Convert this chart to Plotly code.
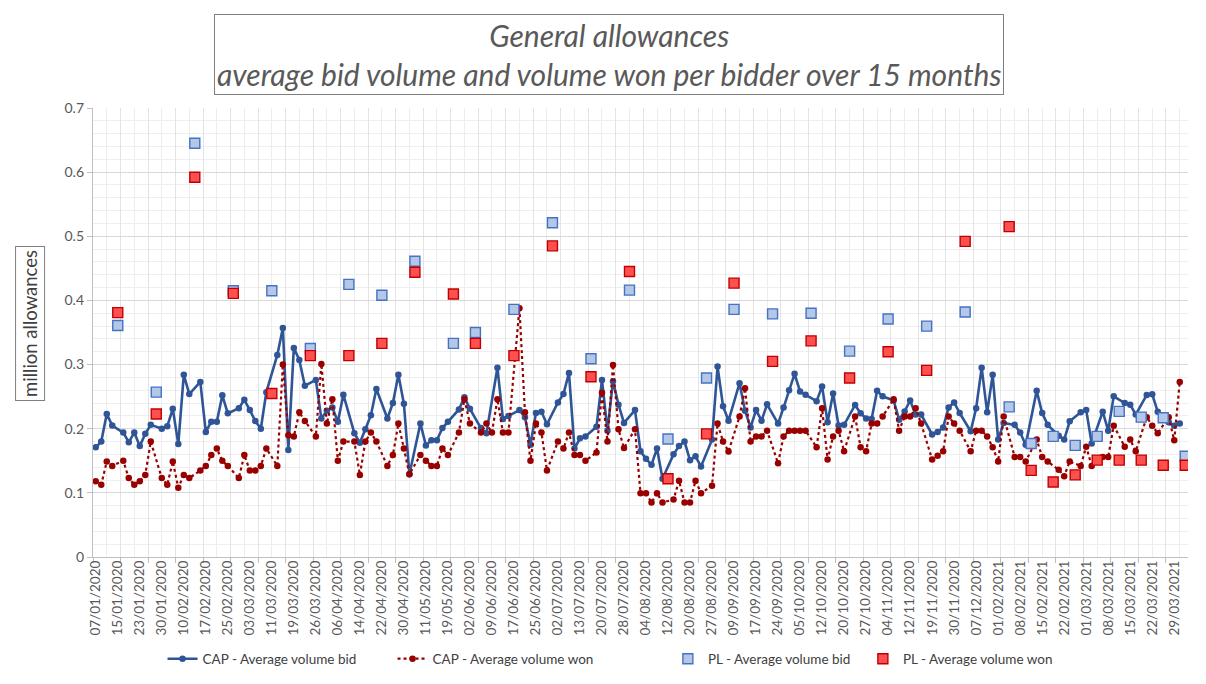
import plotly.graph_objects as go

# ---------------- data ----------------
N_CATEGORIES = 199  # auction dates on the category axis (CAP + PL dates)

tick_labels = [
    "07/01/2020", "15/01/2020", "23/01/2020", "30/01/2020", "10/02/2020", "17/02/2020",
    "25/02/2020", "03/03/2020", "11/03/2020", "19/03/2020", "26/03/2020", "06/04/2020",
    "14/04/2020", "22/04/2020", "30/04/2020", "11/05/2020", "19/05/2020", "02/06/2020",
    "09/06/2020", "17/06/2020", "25/06/2020", "02/07/2020", "13/07/2020", "20/07/2020",
    "28/07/2020", "04/08/2020", "12/08/2020", "20/08/2020", "27/08/2020", "09/09/2020",
    "17/09/2020", "24/09/2020", "05/10/2020", "12/10/2020", "20/10/2020", "27/10/2020",
    "04/11/2020", "12/11/2020", "19/11/2020", "30/11/2020", "07/12/2020", "01/02/2021",
    "08/02/2021", "15/02/2021", "22/02/2021", "01/03/2021", "08/03/2021", "15/03/2021",
    "22/03/2021", "29/03/2021",
]
LABEL_EVERY = 4

# CAP - average volume bid (None = PL-only date)
cap_bid = [
    0.171, 0.180, 0.223, 0.205, None, 0.194, 0.179, 0.194, 0.173, 0.192,
    0.206, None, 0.200, 0.204, 0.231, 0.176, 0.284, 0.254, None, 0.273,
    0.195, 0.211, 0.211, 0.252, 0.224, None, 0.232, 0.245, 0.229, 0.212,
    0.200, 0.257, None, 0.315, 0.357, 0.167, 0.326, 0.307, 0.267, None,
    0.276, 0.216, 0.228, 0.233, 0.211, 0.253, None, 0.193, 0.178, 0.199,
    0.221, 0.262, None, 0.216, 0.240, 0.284, 0.239, 0.129, None, 0.208,
    0.174, 0.182, 0.182, 0.201, 0.211, None, 0.230, 0.249, 0.231, None,
    0.201, 0.193, None, 0.295, 0.215, 0.220, None, 0.229, 0.218, 0.175,
    0.2245, 0.2266, 0.207, None, 0.241, 0.254, 0.287, 0.169, 0.185, 0.188,
    None, 0.203, 0.276, 0.197, 0.274, 0.2375, 0.209, None, 0.229, 0.165,
    0.153, 0.144, 0.169, 0.122, None, 0.160, 0.173, 0.180, 0.151, 0.157,
    0.141, None, 0.183, 0.297, 0.235, 0.2125, None, 0.271, 0.228, 0.202,
    0.229, 0.2125, 0.238, None, 0.208, 0.233, 0.260, 0.2855, 0.258, 0.253,
    None, 0.243, 0.266, 0.210, 0.255, 0.205, 0.206, None, 0.237, 0.224,
    0.216, 0.215, 0.259, 0.2505, None, 0.244, 0.214, 0.227, 0.244, 0.222,
    0.222, None, 0.191, 0.195, 0.202, 0.233, 0.241, 0.2245, None, 0.196,
    0.232, 0.295, 0.2255, 0.284, 0.183, 0.209, None, 0.206, 0.194, 0.175,
    None, 0.259, 0.2245, 0.206, None, 0.189, 0.183, 0.2115, None, 0.2255,
    0.229, 0.177, None, 0.2266, 0.197, 0.2505, None, 0.240, 0.2375, 0.222,
    None, 0.2526, 0.2536, 0.2266, None, 0.210, 0.2047, 0.208, None,
]

# CAP - average volume won
cap_won = [
    0.118, 0.1125, 0.149, 0.142, None, 0.150, 0.123, 0.1125, 0.118, 0.128,
    0.180, None, 0.123, 0.1125, 0.149, 0.108, 0.128, 0.123, None, 0.135,
    0.142, 0.159, 0.169, 0.150, 0.142, None, 0.123, 0.159, 0.135, 0.135,
    0.142, 0.169, None, 0.142, 0.300, 0.190, 0.188, 0.2255, 0.212, None,
    0.188, 0.301, 0.208, 0.246, 0.150, 0.180, None, 0.180, 0.128, 0.180,
    0.194, 0.180, None, 0.142, 0.159, 0.208, 0.169, 0.129, None, 0.159,
    0.150, 0.142, 0.142, 0.169, 0.159, None, 0.194, 0.246, 0.208, None,
    0.194, 0.208, 0.194, 0.246, 0.194, 0.194, None, 0.388, 0.2255, 0.150,
    0.208, 0.194, 0.135, None, 0.180, 0.169, 0.194, 0.159, 0.159, 0.150,
    None, 0.163, 0.256, 0.180, 0.2995, 0.199, 0.170, None, 0.199, 0.0995,
    0.0995, 0.085, 0.0995, 0.085, None, 0.0896, 0.119, 0.085, 0.085, 0.119,
    0.0995, None, 0.111, 0.208, 0.180, 0.1646, None, 0.219, 0.263, 0.180,
    0.188, 0.188, 0.197, None, 0.146, 0.188, 0.197, 0.197, 0.197, 0.197,
    None, 0.171, 0.232, 0.152, 0.188, 0.197, 0.165, None, 0.219, 0.171,
    0.165, 0.208, 0.208, 0.219, None, 0.246, 0.197, 0.219, 0.219, 0.232,
    0.208, None, 0.152, 0.158, 0.165, 0.219, 0.208, 0.197, None, 0.165,
    0.197, 0.197, 0.188, 0.171, 0.149, 0.219, None, 0.156, 0.156, 0.149,
    None, 0.183, 0.156, 0.149, None, 0.136, 0.126, 0.149, None, 0.142,
    0.172, 0.142, None, 0.156, 0.156, 0.2047, None, 0.172, 0.183, 0.165,
    None, 0.218, 0.2047, 0.193, None, 0.218, 0.182, 0.273, None,
]

# PL (Poland) auctions: category index, average volume bid, average volume won
pl_index = [4, 11, 18, 25, 32, 39, 46, 52, 58, 65, 69, 76, 83, 90, 97, 104, 111,
            116, 123, 130, 137, 144, 151, 158, 166, 170, 174, 178, 182, 186, 190,
            194, 198]
pl_bid = [0.361, 0.257, 0.645, 0.415, 0.415, 0.325, 0.425, 0.408, 0.461, 0.333,
          0.350, 0.386, 0.521, 0.309, 0.416, 0.184, 0.279, 0.386, 0.379, 0.380,
          0.321, 0.371, 0.360, 0.382, 0.234, 0.177, 0.188, 0.174, 0.188, 0.227,
          0.218, 0.217, 0.157]
pl_won = [0.381, 0.223, 0.592, 0.411, 0.255, 0.314, 0.314, 0.333, 0.444, 0.410,
          0.333, 0.314, 0.485, 0.281, 0.445, 0.122, 0.192, 0.427, 0.305, 0.337,
          0.279, 0.320, 0.291, 0.492, 0.515, 0.135, 0.117, 0.128, 0.151, 0.151,
          0.151, 0.143, 0.143]

# ---------------- figure ----------------
FONT = "Lato, 'Open Sans', sans-serif"
x_cat = list(range(N_CATEGORIES))
x_range = [-0.5, N_CATEGORIES - 0.5]

fig = go.Figure()
fig.add_trace(go.Scatter(
    x=x_cat, y=cap_bid, mode="lines+markers", name="CAP - Average volume bid",
    connectgaps=True, line=dict(color="#2F5597", width=2.6),
    marker=dict(color="#2F5597", size=6.5), legend="legend",
))
fig.add_trace(go.Scatter(
    x=x_cat, y=cap_won, mode="lines+markers", name="CAP - Average volume won",
    connectgaps=True, line=dict(color="#990000", width=2.2, dash="dot"),
    marker=dict(color="#990000", size=6.5), legend="legend",
))
fig.add_trace(go.Scatter(
    x=pl_index, y=pl_bid, mode="markers", name="PL - Average volume bid",
    marker=dict(symbol="square", size=10, color="#B4C7E7",
                line=dict(color="#4472C4", width=1.4)), legend="legend2",
))
fig.add_trace(go.Scatter(
    x=pl_index, y=pl_won, mode="markers", name="PL - Average volume won",
    xaxis="x2",
    marker=dict(symbol="square", size=10, color="#FF5050",
                line=dict(color="#C00000", width=1.4)), legend="legend2",
))

legend_font = dict(size=13.5, color="#404040")
fig.update_layout(
    width=1206, height=684,
    margin=dict(l=85, r=26, t=100, b=135),
    paper_bgcolor="white", plot_bgcolor="white",
    font=dict(family=FONT, color="#595959"),
    showlegend=True,
    legend=dict(orientation="h", x=0.0635, xanchor="left", y=-0.227, yanchor="middle",
                font=legend_font, traceorder="normal",
                entrywidth=185, entrywidthmode="pixels"),
    legend2=dict(orientation="h", x=0.525, xanchor="left", y=-0.227, yanchor="middle",
                 font=legend_font, traceorder="normal",
                 entrywidth=150, entrywidthmode="pixels"),
    xaxis=dict(
        range=x_range, tickmode="linear", tick0=-0.5, dtick=5,
        showticklabels=False, ticks="outside", ticklen=5, tickcolor="#BFBFBF",
        showgrid=True, gridcolor="#E3E3E3", gridwidth=1,
        minor=dict(tick0=-0.5, dtick=2.5, showgrid=True, gridcolor="#EDEDED", ticks=""),
        showline=True, linecolor="#BFBFBF", linewidth=1.3, zeroline=False,
    ),
    xaxis2=dict(
        overlaying="x", anchor="y", side="bottom", range=x_range,
        tickmode="array",
        tickvals=x_cat[::LABEL_EVERY][:len(tick_labels)],
        ticktext=tick_labels, tickangle=-90,
        tickfont=dict(size=13.5, color="#595959"),
        showgrid=False, showline=False, zeroline=False, ticks="",
    ),
    yaxis=dict(
        range=[0, 0.7], tick0=0, dtick=0.1,
        ticks="outside", ticklen=5, tickcolor="#BFBFBF",
        tickfont=dict(size=14, color="#595959"),
        showgrid=True, gridcolor="#D9D9D9", gridwidth=1,
        minor=dict(dtick=0.02, showgrid=True, gridcolor="#EFEFEF", ticks=""),
        showline=True, linecolor="#BFBFBF", linewidth=1.3, zeroline=False,
    ),
    annotations=[
        dict(
            text="<i>General allowances<br>average bid volume and volume won per bidder over 15 months</i>",
            xref="paper", yref="paper", x=0.471, y=1.12, xanchor="center", yanchor="middle",
            showarrow=False, align="center",
            font=dict(family=FONT, size=30, color="#595959"),
            bordercolor="#7F7F7F", borderwidth=1, borderpad=2, bgcolor="white",
        ),
        dict(
            text="million allowances",
            xref="paper", yref="paper", x=-0.0575, y=0.519, xanchor="center", yanchor="middle",
            textangle=-90, showarrow=False,
            font=dict(family=FONT, size=18.5, color="#404040"),
            bordercolor="#7F7F7F", borderwidth=1, borderpad=3, bgcolor="white",
        ),
    ],
)

fig.write_html("out.html")
